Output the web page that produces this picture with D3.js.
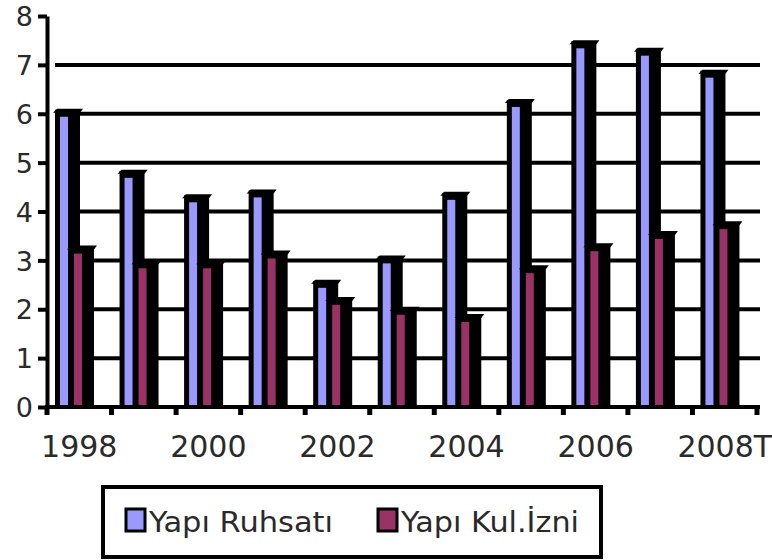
<!DOCTYPE html>
<html>
<head>
<meta charset="utf-8">
<script src="https://cdn.jsdelivr.net/npm/d3@7"></script>
<style>
  body { margin: 0; background: #fff; }
  svg text { font-family: "DejaVu Sans", sans-serif; fill: #2a2a2a; }
</style>
</head>
<body>
<div id="chart"></div>
<script>
// data
var years = ["1998", "1999", "2000", "2001", "2002", "2003", "2004", "2005", "2006", "2007", "2008T"];
var ruhsat = [6.0, 4.75, 4.25, 4.35, 2.5, 3.0, 4.3, 6.2, 7.4, 7.25, 6.8];
var kulIzni = [3.2, 2.9, 2.9, 3.1, 2.15, 1.95, 1.8, 2.8, 3.25, 3.5, 3.7];
var seriesNames = ["Yapı Ruhsatı", "Yapı Kul.İzni"];
var seriesColors = ["#9999ff", "#993366"];
var yTicks = [0, 1, 2, 3, 4, 5, 6, 7, 8];
var xLabels = ["1998", "2000", "2002", "2004", "2006", "2008T"];

var width = 772, height = 560;

var svg = d3.select("#chart").append("svg")
    .attr("width", width)
    .attr("height", height);

var x = d3.scaleBand().domain(years).range([47, 757]);
var xs = d3.scaleBand().domain([0, 1]).range([10, 38]);
var y = d3.scaleLinear().domain([0, 8]).range([407, 16]);

var depth = 9;

// gridlines (no line at the top value)
svg.append("g").selectAll("line")
    .data(yTicks.filter(function(t) { return t > 0 && t < 8; }))
    .join("line")
    .attr("x1", 55).attr("x2", 760)
    .attr("y1", function(d) { return y(d); })
    .attr("y2", function(d) { return y(d); })
    .attr("stroke", "#000")
    .attr("stroke-width", 4);

var rows = years.map(function(yr, i) {
    return { year: yr, vals: [ruhsat[i], kulIzni[i]] };
});

var groups = svg.append("g").selectAll("g")
    .data(rows)
    .join("g")
    .attr("transform", function(d) { return "translate(" + x(d.year) + ",0)"; });

[0, 1].forEach(function(s) {
    var bw = xs.bandwidth();
    // black body: front outline + depth side
    groups.append("rect")
        .attr("x", xs(s) - 2)
        .attr("y", function(d) { return y(d.vals[s]) - 4; })
        .attr("width", bw + depth + 2)
        .attr("height", function(d) { return y(0) - y(d.vals[s]) + 4; })
        .attr("fill", "#000");
    // slanted top cap
    groups.append("path")
        .attr("d", function(d) {
            var t = y(d.vals[s]);
            var x0 = xs(s) - 4, x1 = xs(s) + bw + depth + 3;
            return "M" + x0 + "," + (t - 1) + "L" + (x0 + 4) + "," + (t - 5) +
                   "L" + x1 + "," + (t - 5) + "L" + (x1 - 3) + "," + (t - 1) + "Z";
        })
        .attr("fill", "#000");
    // coloured front face
    groups.append("rect")
        .attr("x", xs(s) + 3)
        .attr("y", function(d) { return y(d.vals[s]) + 3; })
        .attr("width", bw - 6)
        .attr("height", function(d) { return Math.max(0, y(0) - y(d.vals[s]) - 3); })
        .attr("fill", seriesColors[s]);
});

// y axis
var yAxis = d3.axisLeft(y).tickValues(yTicks).tickSize(9).tickPadding(5).tickSizeOuter(0);
var gy = svg.append("g")
    .attr("transform", "translate(47,0)")
    .call(yAxis);
gy.select(".domain").attr("stroke", "#000").attr("stroke-width", 4);
gy.selectAll(".tick line").attr("stroke", "#000").attr("stroke-width", 4);
gy.selectAll(".tick text")
    .attr("font-size", 27)
    .attr("fill", "#2a2a2a")
    .attr("dy", "0.36em");

// x axis: ticks at category boundaries
var gx = svg.append("g");
gx.append("line")
    .attr("x1", 45).attr("x2", 760)
    .attr("y1", y(0)).attr("y2", y(0))
    .attr("stroke", "#000").attr("stroke-width", 4);
gx.selectAll(".xt")
    .data(years.concat(["end"]))
    .join("line")
    .attr("class", "xt")
    .attr("x1", function(d, i) { return 47 + i * x.step(); })
    .attr("x2", function(d, i) { return 47 + i * x.step(); })
    .attr("y1", y(0)).attr("y2", y(0) + 8)
    .attr("stroke", "#000").attr("stroke-width", 5);
gx.selectAll("text")
    .data(xLabels)
    .join("text")
    .attr("x", function(d) { return x(d) + x.bandwidth() / 2; })
    .attr("y", 457)
    .attr("text-anchor", "middle")
    .attr("font-size", 30)
    .text(function(d) { return d; });

// legend
var lg = svg.append("g");
lg.append("rect")
    .attr("x", 103).attr("y", 487)
    .attr("width", 498).attr("height", 70)
    .attr("fill", "#fff").attr("stroke", "#000").attr("stroke-width", 4);
var legendX = [126, 378];
var legendLen = [184, 178];
seriesNames.forEach(function(name, i) {
    lg.append("rect")
        .attr("x", legendX[i]).attr("y", 509)
        .attr("width", 19).attr("height", 22)
        .attr("fill", seriesColors[i])
        .attr("stroke", "#000").attr("stroke-width", 3);
    lg.append("text")
        .attr("x", legendX[i] + 23).attr("y", 532)
        .attr("font-size", 29)
        .attr("textLength", legendLen[i])
        .attr("lengthAdjust", "spacingAndGlyphs")
        .text(name);
});
</script>
</body>
</html>
